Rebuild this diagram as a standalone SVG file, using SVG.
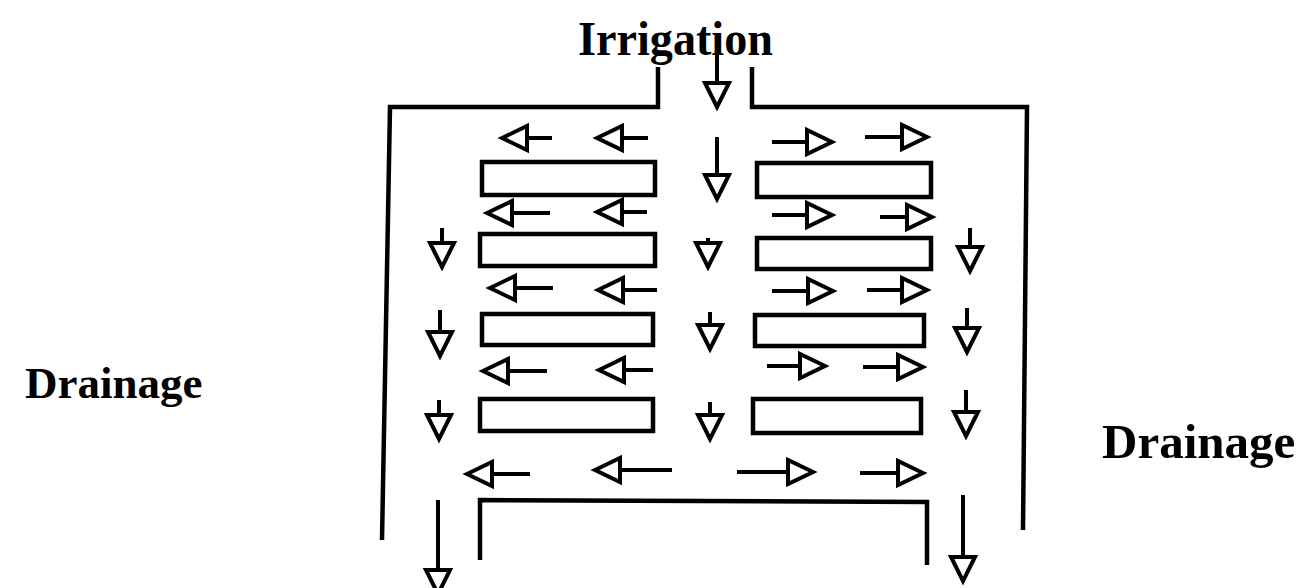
<svg xmlns="http://www.w3.org/2000/svg" width="1304" height="588" viewBox="0 0 1304 588">
<style>
.lbl{font-family:"Liberation Serif","Times New Roman",serif;font-weight:bold;fill:#000}
.wall{fill:none;stroke:#000;stroke-width:4.5;stroke-linejoin:miter}
.blk{fill:#fff;stroke:#000;stroke-width:4.5}
.ln{stroke:#000;stroke-width:4;fill:none}
.hd{fill:#fff;stroke:#000;stroke-width:4;stroke-linejoin:miter}
</style>
<defs>
<path id="hdD" class="hd" d="M-12,0 L12,0 L0,24 Z"/>
<path id="hdL" class="hd" d="M0,0 L25,-12 L25,12 Z"/>
<path id="hdR" class="hd" d="M0,0 L-25,-12 L-25,12 Z"/>
</defs>
<rect width="1304" height="588" fill="#fff"/>
<g id="labels">
<text id="irrigation" class="lbl" x="578" y="55" font-size="49" textLength="195" lengthAdjust="spacingAndGlyphs">Irrigation</text>
<text id="drainage-left" class="lbl" x="25" y="398" font-size="45">Drainage</text>
<text id="drainage-right" class="lbl" x="1102" y="458" font-size="49">Drainage</text>
</g>
<g id="walls">
<polyline id="wall-left" class="wall" points="658,67 658,107 390,107 382,540"/>
<polyline id="wall-right" class="wall" points="752,67 752,107 1027,107 1023,530"/>
<polyline id="wall-bottom" class="wall" points="480,560 480,500 927,502 927,565"/>
</g>
<g id="blocks">
<rect id="block-1L" class="blk" x="482" y="162" width="173" height="33"/>
<rect id="block-1R" class="blk" x="757" y="163" width="174" height="34"/>
<rect id="block-2L" class="blk" x="480" y="234" width="175" height="32"/>
<rect id="block-2R" class="blk" x="757" y="238" width="174" height="31"/>
<rect id="block-3L" class="blk" x="482" y="314" width="171" height="31"/>
<rect id="block-3R" class="blk" x="755" y="315" width="169" height="31"/>
<rect id="block-4L" class="blk" x="480" y="399" width="173" height="32"/>
<rect id="block-4R" class="blk" x="753" y="399" width="168" height="34"/>
</g>
<g id="connectors">
<!-- down arrows -->
<line class="ln" x1="717" y1="45" x2="717" y2="83"/><use href="#hdD" x="717" y="83"/>
<line class="ln" x1="717" y1="137" x2="717" y2="175"/><use href="#hdD" x="717" y="175"/>
<line class="ln" x1="442" y1="228" x2="442" y2="243"/><use href="#hdD" x="442" y="243"/>
<line class="ln" x1="708" y1="238" x2="708" y2="243"/><use href="#hdD" x="708" y="243"/>
<line class="ln" x1="970" y1="228" x2="970" y2="247"/><use href="#hdD" x="970" y="247"/>
<line class="ln" x1="440" y1="310" x2="440" y2="332"/><use href="#hdD" x="440" y="332"/>
<line class="ln" x1="710" y1="312" x2="710" y2="325"/><use href="#hdD" x="710" y="325"/>
<line class="ln" x1="967" y1="308" x2="967" y2="328"/><use href="#hdD" x="967" y="328"/>
<line class="ln" x1="439" y1="400" x2="439" y2="415"/><use href="#hdD" x="439" y="415"/>
<line class="ln" x1="710" y1="402" x2="710" y2="415"/><use href="#hdD" x="710" y="415"/>
<line class="ln" x1="966" y1="390" x2="966" y2="412"/><use href="#hdD" x="966" y="412"/>
<line class="ln" x1="438" y1="500" x2="438" y2="570"/><use href="#hdD" x="438" y="570"/>
<line class="ln" x1="963" y1="495" x2="963" y2="557"/><use href="#hdD" x="963" y="557"/>
<!-- left arrows -->
<line class="ln" x1="527" y1="138" x2="552" y2="138"/><use href="#hdL" x="502" y="138"/>
<line class="ln" x1="622" y1="138" x2="648" y2="138"/><use href="#hdL" x="597" y="138"/>
<line class="ln" x1="512" y1="213" x2="550" y2="213"/><use href="#hdL" x="487" y="213"/>
<line class="ln" x1="620" y1="212" x2="647" y2="212"/><use href="#hdL" x="597" y="212"/>
<line class="ln" x1="515" y1="288" x2="553" y2="288"/><use href="#hdL" x="490" y="288"/>
<line class="ln" x1="625" y1="290" x2="657" y2="290"/><use href="#hdL" x="598" y="290"/>
<line class="ln" x1="508" y1="371" x2="547" y2="371"/><use href="#hdL" x="483" y="371"/>
<line class="ln" x1="625" y1="370" x2="653" y2="370"/><use href="#hdL" x="599" y="370"/>
<line class="ln" x1="492" y1="474" x2="530" y2="474"/><use href="#hdL" x="467" y="474"/>
<line class="ln" x1="622" y1="470" x2="672" y2="470"/><use href="#hdL" x="595" y="470"/>
<!-- right arrows -->
<line class="ln" x1="772" y1="142" x2="807" y2="142"/><use href="#hdR" x="832" y="142"/>
<line class="ln" x1="865" y1="137" x2="900" y2="137"/><use href="#hdR" x="927" y="137"/>
<line class="ln" x1="772" y1="215" x2="807" y2="215"/><use href="#hdR" x="832" y="215"/>
<line class="ln" x1="880" y1="217" x2="905" y2="217"/><use href="#hdR" x="932" y="217"/>
<line class="ln" x1="772" y1="291" x2="808" y2="291"/><use href="#hdR" x="833" y="291"/>
<line class="ln" x1="867" y1="290" x2="902" y2="290"/><use href="#hdR" x="927" y="290"/>
<line class="ln" x1="767" y1="366" x2="800" y2="366"/><use href="#hdR" x="825" y="366"/>
<line class="ln" x1="863" y1="367" x2="897" y2="367"/><use href="#hdR" x="923" y="367"/>
<line class="ln" x1="737" y1="472" x2="787" y2="472"/><use href="#hdR" x="813" y="472"/>
<line class="ln" x1="860" y1="473" x2="897" y2="473"/><use href="#hdR" x="923" y="473"/>
</g>
</svg>
